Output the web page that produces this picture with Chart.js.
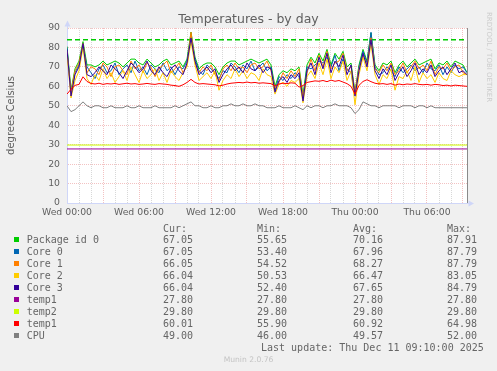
<!DOCTYPE html>
<html><head><meta charset="utf-8">
<script src="https://cdn.jsdelivr.net/npm/chart.js@4.4.1/dist/chart.umd.min.js"></script>
<style>
html,body{margin:0;padding:0;background:#F0F0F0;}
#wrap{position:relative;width:497px;height:371px;overflow:hidden;}
#c{position:absolute;left:0;top:0;}
.t{position:absolute;white-space:pre;font-family:"DejaVu Sans Mono",monospace;font-size:10px;line-height:12px;color:#666;}
.sw{position:absolute;width:5px;height:5px;}
#rrd{position:absolute;left:484px;top:12px;writing-mode:vertical-rl;font-family:"DejaVu Sans";font-size:7px;line-height:9px;color:#cccccc;white-space:nowrap;}
#munin{position:absolute;left:0;width:497px;text-align:center;top:355px;font-family:"DejaVu Sans";font-size:7.6px;line-height:10px;color:#c4c4c4;}
</style></head>
<body>
<div id="wrap">
<canvas id="c" width="497" height="371"></canvas>
<div id="rrd">RRDTOOL / TOBI OETIKER</div>
<div id="legend"></div>
<div id="munin">Munin 2.0.76</div>
</div>
<script>
// ---- data ----
const X_MAX_HOURS = 2000 / 60;          // 33h20m window
const SAMPLE_STEP_MIN = 20;
const xTickHours = [0, 6, 12, 18, 24, 30];
const xTickLabels = ['Wed 00:00', 'Wed 06:00', 'Wed 12:00', 'Wed 18:00', 'Thu 00:00', 'Thu 06:00'];

const seriesNames = ['Package id 0', 'Core 0', 'Core 1', 'Core 2', 'Core 3', 'temp1', 'temp2', 'temp1', 'CPU'];
const seriesColors = ['#00CC00', '#0066B3', '#FF8000', '#FFCC00', '#330099', '#990099', '#CCFF00', '#FF0000', '#808080'];
const curVals = ['67.05', '67.05', '66.05', '66.04', '66.04', '27.80', '29.80', '60.01', '49.00'];
const minVals = ['55.65', '53.40', '54.52', '50.53', '52.40', '27.80', '29.80', '55.90', '46.00'];
const avgVals = ['70.16', '67.96', '68.27', '66.47', '67.65', '27.80', '29.80', '60.92', '49.57'];
const maxVals = ['87.91', '87.79', '87.79', '83.05', '84.79', '27.80', '29.80', '64.98', '52.00'];
const lastUpdate = 'Last update: Thu Dec 11 09:10:00 2025';

const warnLevel = 84;

const pkg = [80.5,58,69,73,83, 71,71,70,71,73, 71,72,73,72,70, 72,74,74,72,71, 74,72,70,71,73, 74,71,72,73,70,
  74,87.91,75,69,71, 72,72,70,66,70, 72,73,73,71,72, 73,74,73,72,73, 74,71,60,66,68, 67,69,68,70,55.65,
  71,75,72,77,73, 79,71,77,74,78, 70,72,57,71,79, 73,87.5,71,68,72, 71,73,67,71,73, 70,72,74,71,72,
  73,74,69,72,71, 73,70,73,72,71, 67.05];
const core0 = [80,56,67,71,81, 70,67,64,69,71, 67,68,72,66,69, 71,67,73,68,70, 66,71,69,67,72, 68,70,66,70,69,
  73,86,74,68,66, 71,69,67,64,68, 67,72,70,67,71, 69,73,68,70,72, 68,70,58,65,63, 66,64,67,65,53.4,
  70,69,71,73,72, 75,70,76,68,74, 69,67,56,70,78, 72,87.79,70,66,67, 70,68,65,70,67, 69,71,68,70,67,
  72,69,68,71,66, 70,67,71,69,70, 67.05];
const core1 = [78,57,68,72,82, 67,70,69,66,72, 70,65,70,71,68, 66,73,69,71,67, 72,70,65,69,71, 73,67,69,72,67,
  71,87.79,72,67,70, 68,71,66,63,69, 71,68,72,69,70, 67,71,72,69,70, 73,68,59,62,67, 64,68,65,69,54.52,
  67,74,68,76,70, 78,69,72,73,77, 68,70,57,69,76, 71,85,69,67,71, 68,72,66,68,72, 67,70,73,69,71,
  68,73,66,70,69, 72,68,70,71,67, 66.05];
const core2 = [76,54,63,68,80, 64,61,66,63,69, 64,67,62,65,68, 63,70,66,62,68, 64,66,69,63,67, 62,68,65,63,67,
  70,83.05,71,63,65, 67,64,68,58,63, 66,64,69,65,68, 64,67,66,63,69, 66,65,56,61,62, 60,63,62,64,51.5,
  65,68,64,72,66, 74,64,70,67,73, 63,68,50.53,66,75, 68,82,66,61,66, 64,69,58,65,64, 68,63,70,62,67,
  64,66,62,67,64, 63,68,66,65,66, 66.04];
const core3 = [79,55,66,70,82, 66,65,67,70,68, 66,71,69,67,64, 68,72,70,67,69, 73,68,66,70,67, 65,69,71,68,66,
  72,84.79,73,66,68, 70,67,69,62,66, 69,71,68,70,67, 72,69,68,71,67, 70,69,57,63,65, 62,66,64,67,52.4,
  68,72,66,75,69, 77,67,73,70,76, 66,71,55,68,77, 70,84,68,64,69, 66,71,63,67,70, 65,68,72,66,69,
  67,71,65,68,70, 66,69,72,67,68, 66.04];
const temp1Purple = [27.8, 27.8];
const temp2 = [29.8, 29.8];
const temp1Red = [56,58.5,60.5,61,64.9,62.5,61.5,61.2,61.6,61, 61.4,61.2,61.5,61,61.3,61.6,61.2,61.4,61,61.2,
  61.5,61.2,61,61.4,61.2,61,60.6,60.4,60,60.8, 62,63.6,62,61.2,61.4,61.2,61,60.8,60.2,60.6,
  61.2,61.6,61.8,62,61.8,62.2,61.8,62,61.6,61.8, 61.6,61.4,60.2,61.2,61.6,61.4,61.8,61.6,59.6,60.4,
  62,62.4,62.8,62.6,63,62.4,63.2,62.6,63,62.2, 61.4,60,56,60.5,62.5,63.4,62.4,61.6,61.2,61.4,
  61,61.4,60.6,61.2,60.8,61.2,61,61.4,61,60.8, 61,60.6,61,60.8,60.4,60.6,60.2,60.6,60.4,60.2, 60.01];
const cpu = [50,47,48,50,52,50,49,50,50,49, 49,50,49,49,49,50,49,49,50,49, 49,49,50,49,49,49,49,50,49,50,
  51,52,50,50,49,49,50,49,49,50, 50,51,50,50,51,50,50,51,50,50, 49,49,49,50,49,49,49,50,49,48,
  50,49,50,50,49,50,50,51,50,50, 50,49,46,48,52,51,50,50,49,50, 50,50,50,49,50,50,50,49,50,50,
  49,50,49,49,49,49,49,49,49,49, 49];

// ---- sample times (hours from Wed 00:00) ----
const times = core3.map((_, i) => i * SAMPLE_STEP_MIN / 60);
const flatTimes = [0, X_MAX_HOURS];

function pts(xs, ys) { return ys.map((v, i) => ({x: xs[i], y: v})); }

const seriesData = [pkg, core0, core1, core2, core3, temp1Purple, temp2, temp1Red, cpu];
const seriesTimes = [times, times, times, times, times, flatTimes, flatTimes, times, times];

const datasets = [{
  label: 'warning', data: pts(flatTimes, [warnLevel, warnLevel]), borderColor: '#00CC00',
  borderWidth: 1.5, borderDash: [5, 3], pointRadius: 0, order: 20, yAxisID: 'y'
}];
seriesData.forEach((d, k) => {
  datasets.push({
    label: seriesNames[k], data: pts(seriesTimes[k], d), borderColor: seriesColors[k],
    borderWidth: 1, pointRadius: 0, tension: 0, order: 10 - k, yAxisID: 'y'
  });
});

// ---- legend (HTML text) ----
const leg = document.getElementById('legend');
function addText(txt, left, top) {
  const e = document.createElement('div'); e.className = 't'; e.textContent = txt;
  e.style.left = left + 'px'; e.style.top = top + 'px'; leg.appendChild(e);
}
const colX = [163, 257, 353, 447];
['Cur:', 'Min:', 'Avg:', 'Max:'].forEach((h, j) => addText(h, colX[j], 222.5));
seriesNames.forEach((n, k) => {
  const top = 233.9 + 12 * k;
  const sw = document.createElement('div'); sw.className = 'sw';
  sw.style.left = '14px'; sw.style.top = (top + 3.3) + 'px'; sw.style.background = seriesColors[k];
  leg.appendChild(sw);
  addText(n, 26.7, top);
  [curVals[k], minVals[k], avgVals[k], maxVals[k]].forEach((v, j) => addText(v, colX[j], top));
});
addText(lastUpdate, 261, 341.5);

// ---- chart ----
const GRID = 'rgba(143,143,143,0.35)';
const MGRID = 'rgba(222,79,79,0.35)';
const AXIS = '#CFD6F8';
const FONT = '#606060';

const deco = {
  id: 'deco',
  beforeDraw(c) {
    const a = c.chartArea, g = c.ctx;
    g.save(); g.fillStyle = '#FFFFFF';
    g.fillRect(a.left, a.top, a.right - a.left, a.bottom - a.top); g.restore();
  },
  afterDraw(c) {
    const a = c.chartArea, g = c.ctx;
    g.save(); g.fillStyle = AXIS; g.strokeStyle = AXIS; g.lineWidth = 1;
    const lx = Math.round(a.left) + 0.5, by = Math.round(a.bottom) + 0.5;
    g.beginPath(); g.moveTo(lx, a.top); g.lineTo(lx, a.top - 2); g.stroke();
    g.beginPath(); g.moveTo(lx, a.top - 7.5); g.lineTo(lx - 3, a.top - 1.5); g.lineTo(lx + 3, a.top - 1.5); g.closePath(); g.fill();
    g.beginPath(); g.moveTo(a.right, by); g.lineTo(a.right + 2, by); g.stroke();
    g.beginPath(); g.moveTo(a.right + 7, by); g.lineTo(a.right + 1.5, by - 3); g.lineTo(a.right + 1.5, by + 3); g.closePath(); g.fill();
    g.restore();
  }
};

new Chart(document.getElementById('c'), {
  type: 'line',
  data: { datasets },
  plugins: [deco],
  options: {
    responsive: false, animation: false, devicePixelRatio: 1,
    layout: { padding: 0 },
    plugins: {
      legend: { display: false }, tooltip: { enabled: false },
      title: { display: true, text: 'Temperatures - by day', color: FONT,
        font: { family: 'DejaVu Sans', size: 12.5, weight: 'normal', lineHeight: 1.2 },
        padding: { top: 12, bottom: 1 } }
    },
    scales: {
      x: {
        type: 'linear', min: 0, max: X_MAX_HOURS,
        afterFit: s => { s.height = 168; },
        ticks: { stepSize: 1, includeBounds: false, autoSkip: false, maxRotation: 0, minRotation: 0,
          padding: 4, color: FONT, font: { family: 'DejaVu Sans', size: 9.3 },
          callback: v => { const j = xTickHours.indexOf(v); return j >= 0 ? xTickLabels[j] : ''; } },
        grid: { drawTicks: false, lineWidth: 1,
          color: c => (c.tick && Math.round(c.tick.value) % 3 === 0) ? MGRID : GRID },
        border: { display: true, color: AXIS, width: 1, dash: [1, 1] }
      },
      y: {
        position: 'left', min: 0, max: 90,
        afterFit: s => { s.width = 67; },
        ticks: { stepSize: 5, padding: 7, color: FONT, font: { family: 'DejaVu Sans', size: 9.3 },
          callback: v => (v % 10 === 0 ? String(v) : '') },
        grid: { drawTicks: false, lineWidth: 1,
          color: c => (c.tick && c.tick.value % 10 === 0) ? MGRID : GRID },
        border: { display: true, color: AXIS, width: 1, dash: [1, 1] },
        title: { display: true, text: 'degrees Celsius', color: FONT,
          font: { family: 'DejaVu Sans', size: 10, lineHeight: 1.2 }, padding: { top: 5, bottom: 0 } }
      },
      y2: {
        position: 'right', min: 0, max: 90,
        afterFit: s => { s.width = 30; },
        ticks: { display: false }, grid: { display: false, drawTicks: false },
        border: { display: true, color: '#8a8a8a', width: 1 }
      }
    }
  }
});
</script>
</body></html>
